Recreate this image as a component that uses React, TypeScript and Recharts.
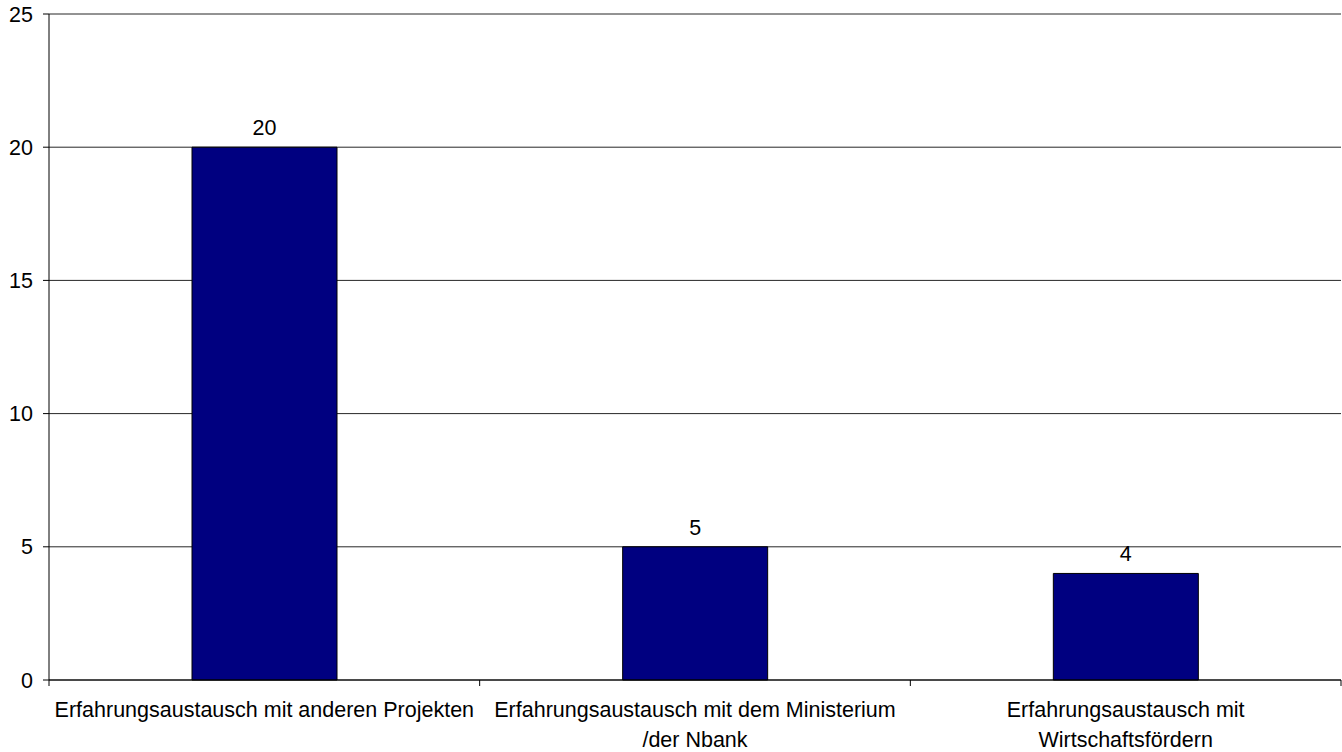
import { BarChart, Bar, XAxis, YAxis, CartesianGrid, LabelList } from "recharts";

// categories (line breaks as in the original labels)
const categories = [
  "Erfahrungsaustausch mit anderen Projekten",
  "Erfahrungsaustausch mit dem Ministerium\n/der Nbank",
  "Erfahrungsaustausch mit\nWirtschaftsfördern",
];
const counts = [20, 5, 4];
const yTicks = [0, 5, 10, 15, 20, 25];

const data = categories.map((name, i) => ({ name, value: counts[i] }));

const FONT = "'Liberation Sans', Arial, sans-serif";
const TICK_SIZE = 6;
const TICK_MARGIN = 10;

function CategoryTick(props: any) {
  const { x, y, payload, index, visibleTicksCount, width } = props;
  const half = payload.offset ?? width / visibleTicksCount / 2;
  const y0 = y - TICK_SIZE - TICK_MARGIN;
  const lines = String(payload.value).split("\n");
  return (
    <g>
      <line x1={x - half} x2={x - half} y1={y0} y2={y0 + TICK_SIZE} stroke="#000" />
      {index === visibleTicksCount - 1 && (
        <line x1={x + half} x2={x + half} y1={y0} y2={y0 + TICK_SIZE} stroke="#000" />
      )}
      <text x={x} y={y0 + 37} textAnchor="middle" fontSize={21.5} fontFamily={FONT} fill="#000">
        {lines.map((l, i) => (
          <tspan key={i} x={x} dy={i === 0 ? 0 : 30}>
            {l}
          </tspan>
        ))}
      </text>
    </g>
  );
}

export default function App() {
  return (
    <div style={{ position: "absolute", left: 0, top: 0 }}>
      <BarChart
        width={1342}
        height={752}
        data={data}
        margin={{ top: 14, right: 1, left: 0, bottom: 0 }}
        barSize={145}
      >
        <CartesianGrid vertical={false} stroke="#000" strokeOpacity={0.85} />
        <XAxis
          dataKey="name"
          height={72}
          stroke="#000"
          tickLine={false}
          tickSize={TICK_SIZE}
          tickMargin={TICK_MARGIN}
          interval={0}
          tick={<CategoryTick />}
        />
        <YAxis
          width={49}
          domain={[0, 25]}
          ticks={yTicks}
          interval={0}
          stroke="#000"
          tickSize={TICK_SIZE}
          tickMargin={TICK_MARGIN}
          tick={{ fill: "#000", fontSize: 21.5, fontFamily: FONT }}
        />
        <Bar dataKey="value" fill="#000080" stroke="#000" strokeWidth={1} isAnimationActive={false}>
          <LabelList
            dataKey="value"
            position="top"
            offset={12}
            style={{ fill: "#000", fontSize: 21.5, fontFamily: FONT }}
          />
        </Bar>
      </BarChart>
    </div>
  );
}
